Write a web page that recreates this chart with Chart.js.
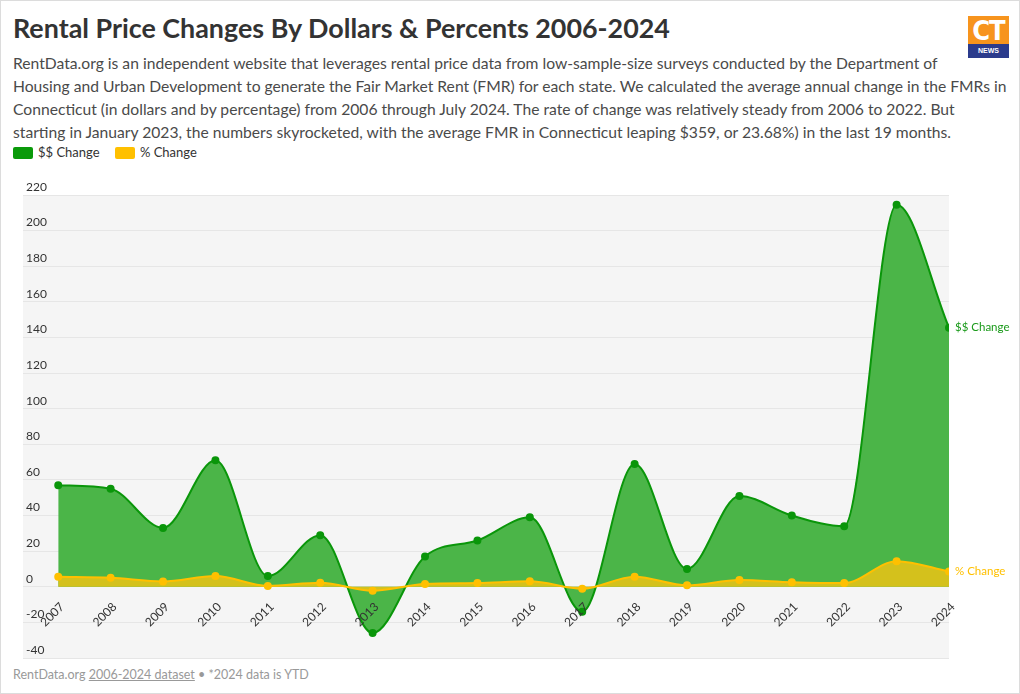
<!DOCTYPE html>
<html>
<head>
<meta charset="utf-8">
<script src="https://cdn.jsdelivr.net/npm/chart.js@4/dist/chart.umd.min.js"></script>
<style>
  body { margin: 0; background: #fff; font-family: Lato, "Noto Sans", sans-serif; }
  #wrap { position: relative; width: 1020px; height: 694px; border: 1px solid #dcdcdc; box-sizing: border-box; overflow: hidden; }
  h1 { position: absolute; left: 12px; top: 10px; margin: 0; font-size: 24px; font-weight: 700; color: #333; white-space: nowrap; }
  #desc { position: absolute; left: 12px; top: 51px; margin: 0; font-size: 16px; line-height: 23px; color: #4a4a4a; white-space: nowrap; }
  #legend { position: absolute; left: 12px; top: 143px; font-size: 13px; color: #333; }
  #legend span.sw { display: inline-block; width: 20px; height: 12px; border-radius: 2px; vertical-align: -2px; margin-right: 5px; }
  #legend span.item { margin-right: 12px; }
  #logo { position: absolute; left: 967px; top: 15px; width: 41px; height: 42px; }
  #logo .top { height: 28px; background: #f7941d; color: #fff; font: 700 27px/29px "Liberation Sans Narrow", "DejaVu Sans Condensed", sans-serif; text-align: center; letter-spacing: -1px; }
  #logo .bot { height: 14px; background: #2b3b8c; color: #fff; font: 700 7px/13px sans-serif; text-align: center; }
  #foot { position: absolute; left: 12px; top: 666px; font-size: 12.5px; color: #999; }
  #foot u { text-decoration: underline; }
  canvas { position: absolute; left: 0; top: 0; }
</style>
</head>
<body>
<div id="wrap">
  <h1 id="title">Rental Price Changes By Dollars &amp; Percents 2006-2024</h1>
  <div id="desc">
    <div>RentData.org is an independent website that leverages rental price data from low-sample-size surveys conducted by the Department of</div>
    <div id="wide">Housing and Urban Development to generate the Fair Market Rent (FMR) for each state. We calculated the average annual change in the FMRs in</div>
    <div>Connecticut (in dollars and by percentage) from 2006 through July 2024. The rate of change was relatively steady from 2006 to 2022. But</div>
    <div>starting in January 2023, the numbers skyrocketed, with the average FMR in Connecticut leaping $359, or 23.68%) in the last 19 months.</div>
  </div>
  <div id="legend">
    <span class="item"><span class="sw" style="background:#0a9a0a"></span>$$ Change</span>
    <span class="item"><span class="sw" style="background:#ffc000"></span>% Change</span>
  </div>
  <div id="logo"><div class="top">CT</div><div class="bot">NEWS</div></div>
  <div id="foot">RentData.org <u>2006-2024 dataset</u> • *2024 data is YTD</div>
  <canvas id="myChart" width="1020" height="694"></canvas>
</div>
<script>
var years = [2007, 2008, 2009, 2010, 2011, 2012, 2013, 2014, 2015, 2016, 2017, 2018, 2019, 2020, 2021, 2022, 2023, 2024];
var dollarChange = [57, 55, 33, 71, 6, 29, -26, 17, 26, 39, -14, 69, 10, 51, 40, 34, 214.5, 145.5];
var percentChange = [5.6, 5, 3, 6, 0.5, 2.2, -2.2, 1.6, 2.1, 3.1, -1.1, 5.6, 0.8, 3.8, 2.6, 2.1, 14.4, 8.6];
var yTicks = [-40, -20, 0, 20, 40, 60, 80, 100, 120, 140, 160, 180, 200, 220];

// stretch text to the widths in the reference
function fitWidth(el, target) {
  var w = el.getBoundingClientRect().width;
  var fs = parseFloat(getComputedStyle(el).fontSize);
  return fs * target / w;
}
var t = document.getElementById('title');
t.style.fontSize = fitWidth(t, 657) + 'px';
var wide = document.getElementById('wide');
wide.style.display = 'inline-block';
document.getElementById('desc').style.fontSize = fitWidth(wide, 995) + 'px';

var bgPlugin = {
  id: 'plotBg',
  beforeDraw: function (chart) {
    var a = chart.chartArea, c = chart.ctx;
    c.save();
    c.fillStyle = '#f5f5f5';
    c.fillRect(a.left, a.top, a.right - a.left, a.bottom - a.top);
    c.restore();
  }
};

var endLabels = {
  id: 'endLabels',
  afterDatasetsDraw: function (chart) {
    var c = chart.ctx;
    c.save();
    c.font = '11.5px Lato, sans-serif';
    c.textBaseline = 'middle';
    chart.data.datasets.forEach(function (ds, i) {
      var pts = chart.getDatasetMeta(i).data;
      var p = pts[pts.length - 1];
      c.fillStyle = ds.labelColor;
      c.fillText(ds.label, p.x + 6, p.y);
    });
    c.restore();
  }
};

var ctx1 = document.getElementById('myChart').getContext('2d');
var myChart = new Chart(ctx1, {
    type: 'line',
    data: {
        datasets: [{
            label: '% Change',
            data: years.map(function (y, i) { return { x: y, y: percentChange[i] }; }),
            borderColor: '#ffc000',
            backgroundColor: '#d4c11c',
            pointBackgroundColor: '#ffc000',
            pointBorderColor: '#ffc000',
            labelColor: '#ffc000',
            borderWidth: 2,
            pointRadius: 3,
            cubicInterpolationMode: 'monotone',
            fill: 'origin',
            order: 1
        }, {
            label: '$$ Change',
            data: years.map(function (y, i) { return { x: y, y: dollarChange[i] }; }),
            borderColor: '#0a960a',
            backgroundColor: '#4bb548',
            pointBackgroundColor: '#0a960a',
            pointBorderColor: '#0a960a',
            labelColor: '#1a9a1a',
            borderWidth: 2,
            pointRadius: 3,
            cubicInterpolationMode: 'monotone',
            fill: 'origin',
            order: 2
        }]
    },
    options: {
        responsive: false,
        animation: false,
        layout: { padding: { left: 22, right: 72, top: 194, bottom: 37 } },
        plugins: { legend: { display: false }, tooltip: { enabled: false } },
        scales: {
            x: {
                type: 'linear',
                position: { y: 0 },
                min: 2006.3277,
                max: 2024,
                afterBuildTicks: function (s) {
                    s.ticks = years.map(function (y) { return { value: y }; });
                },
                grid: { display: false },
                border: { display: false },
                ticks: {
                    z: 1,
                    minRotation: 45,
                    maxRotation: 45,
                    padding: 5,
                    labelOffset: 4,
                    color: '#333',
                    font: { family: 'Lato', size: 12 },
                    callback: function (v) { return String(v); }
                }
            },
            y: {
                min: -40,
                max: 220,
                afterBuildTicks: function (s) {
                    s.ticks = yTicks.map(function (v) { return { value: v }; });
                },
                afterFit: function (s) { s.width = 0; },
                grid: { color: '#e6e6e6', drawTicks: false },
                border: { display: false },
                ticks: {
                    mirror: true,
                    padding: 3,
                    labelOffset: -8,
                    color: '#333',
                    font: { family: 'Lato', size: 12 }
                }
            }
        }
    },
    plugins: [bgPlugin, endLabels]
});
</script>
</body>
</html>
